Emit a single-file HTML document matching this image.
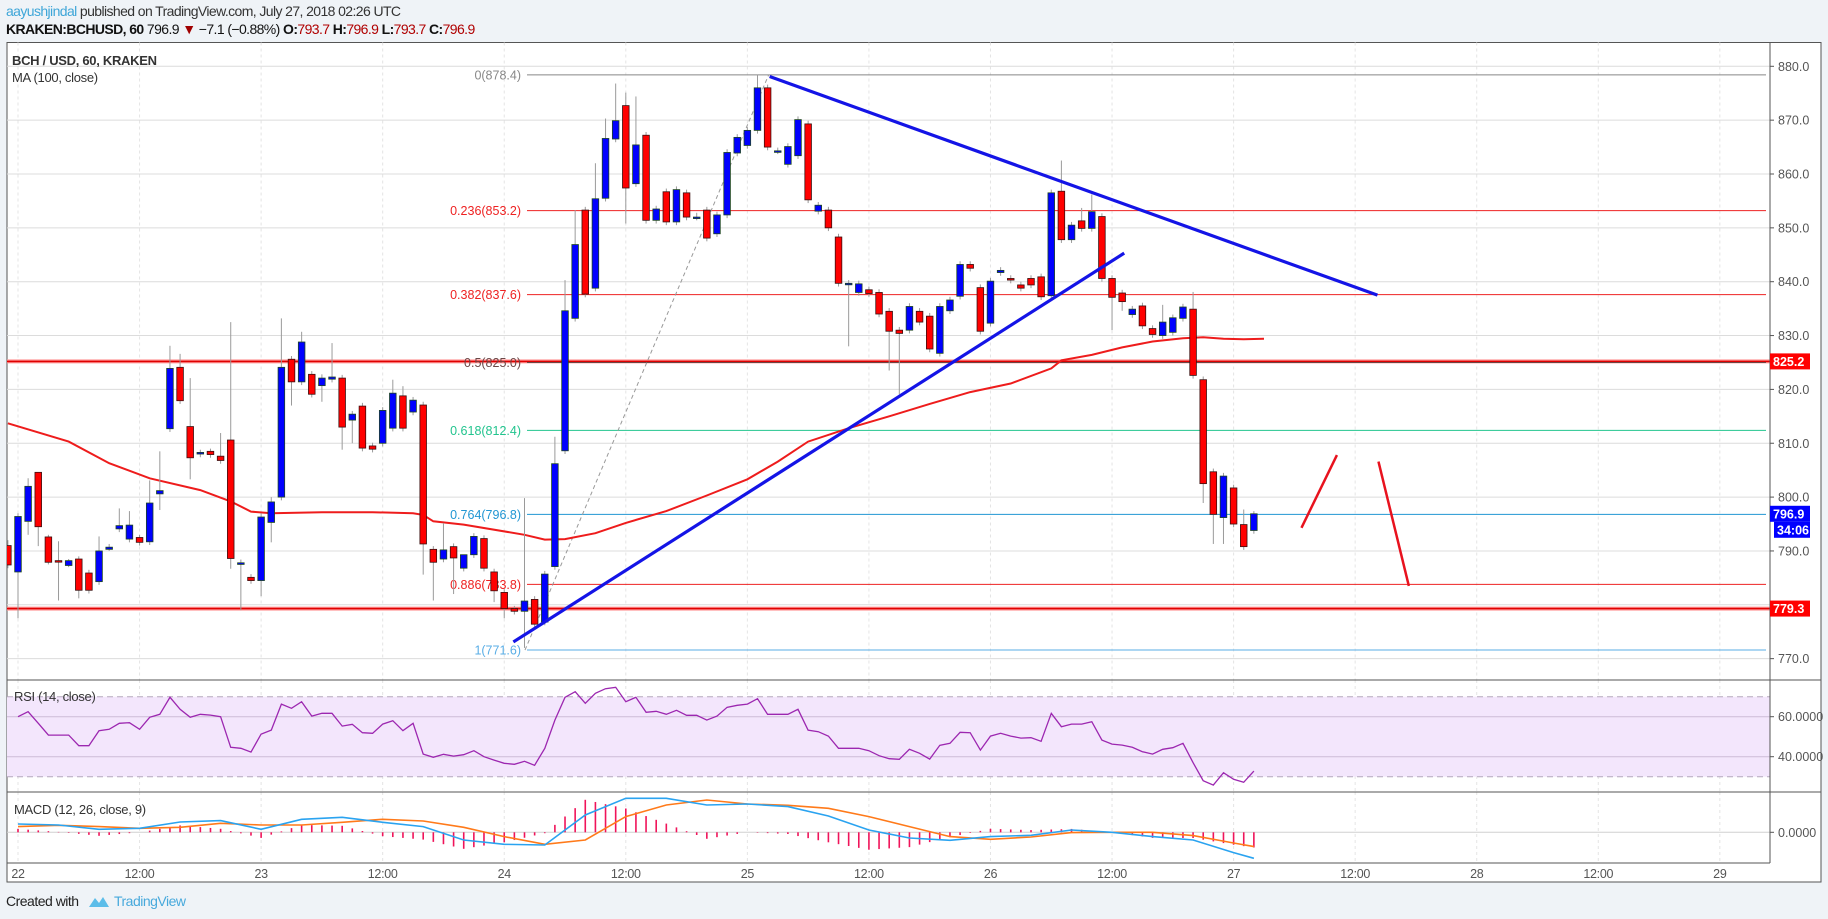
<!DOCTYPE html>
<html><head><meta charset="utf-8">
<style>
html,body{margin:0;padding:0;background:#eff3f7;}
body{width:1828px;height:919px;overflow:hidden;position:relative;font-family:"Liberation Sans",sans-serif;}
#hdr1{position:absolute;left:6px;top:3px;font-size:14px;color:#333;white-space:nowrap;letter-spacing:-0.6px}
#hdr2{position:absolute;left:6px;top:21px;font-size:14px;color:#111;font-weight:bold;white-space:nowrap;letter-spacing:-0.6px}
#hdr2 .v{color:#b00000;font-weight:normal}
#footer{position:absolute;left:6px;top:893px;font-size:14px;color:#222;white-space:nowrap;letter-spacing:-0.5px}
svg{position:absolute;left:0;top:0}
</style></head>
<body>
<div id="hdr1"><span style="color:#3ea6d8">aayushjindal</span> published on TradingView.com, July 27, 2018 02:26 UTC</div>
<div id="hdr2">KRAKEN:BCHUSD, 60 <span style="font-weight:normal">796.9</span> <span style="color:#a00000">▼</span> <span style="font-weight:normal">−7.1 (−0.88%)</span> O:<span class="v">793.7</span> H:<span class="v">796.9</span> L:<span class="v">793.7</span> C:<span class="v">796.9</span></div>
<svg id="chart" width="1828" height="919" xmlns="http://www.w3.org/2000/svg"></svg>
<div id="footer">Created with <span style="display:inline-block;width:22px;height:12px;vertical-align:-1px;margin:0 4px 0 6px;position:relative"><svg width="22" height="13" style="position:absolute;left:0;top:0"><path d="M1 12 L7 3 L11 8 L15 2 L21 12 Z" fill="#5cbde9"/></svg></span><span style="color:#47a9dc">TradingView</span></div>
<script>
// ---- data ----
const startHour = -1;
const opens  = [791.0,786.1,795.5,804.6,792.6,788.2,787.3,788.5,785.9,784.3,790.3,794.1,792.2,792.5,791.7,800.6,812.7,824.1,813.1,808.0,808.5,807.6,810.6,787.5,785.1,784.5,795.3,800.0,825.6,821.4,822.8,820.7,821.9,822.1,814.3,816.9,809.5,810.0,812.8,818.8,815.8,817.1,790.3,788.5,790.8,786.8,789.3,792.3,786.1,782.3,779.3,778.8,781.0,776.8,787.1,808.6,833.2,853.3,838.8,855.5,866.5,872.7,858.2,867.2,851.4,856.7,851.1,856.5,852.0,853.3,848.9,852.4,863.9,865.3,868.1,876.0,864.3,861.8,863.4,869.3,853.1,853.3,848.3,839.7,838.0,838.5,838.0,834.5,831.0,831.0,834.5,833.6,826.7,834.6,837.3,843.2,838.9,832.3,841.7,840.6,839.4,840.6,840.9,837.4,856.8,847.8,851.3,849.9,852.1,840.6,837.9,833.9,835.5,831.3,830.0,830.6,833.2,834.9,821.8,804.7,796.2,801.7,794.9,793.8];
const closes = [787.4,796.4,802.0,794.5,787.9,788.0,788.2,782.7,782.7,790.0,790.7,794.7,794.8,791.6,798.9,801.2,823.9,817.9,807.3,808.3,807.9,806.8,788.6,787.8,784.5,796.3,799.1,824.1,821.4,828.8,819.1,822.1,822.3,813.0,815.4,809.1,808.9,816.1,819.3,812.8,818.0,791.3,787.9,790.2,788.7,789.3,792.7,786.8,782.6,779.3,778.8,780.7,776.4,785.7,806.2,834.6,846.9,837.7,855.4,866.6,869.9,857.4,865.4,851.4,853.5,851.1,857.1,852.0,852.0,848.1,852.4,864.0,866.8,868.1,876.0,865.0,864.3,865.1,870.1,855.2,854.2,850.0,839.7,839.7,839.6,837.8,834.0,830.8,830.4,835.4,832.5,827.5,835.4,836.6,843.2,842.5,830.8,840.1,842.1,840.3,838.8,839.4,837.2,856.5,847.8,850.5,849.9,853.0,840.6,837.1,836.3,834.9,831.8,830.2,832.5,833.3,835.3,822.6,802.5,796.8,803.9,795.0,790.8,796.9];
const highs  = [792.0,797.0,803.5,804.6,793.0,791.8,788.5,789.0,786.5,792.7,791.3,797.9,797.4,793.0,803.1,808.5,828.1,826.6,822.1,808.8,809.0,811.9,832.5,788.4,785.7,797.0,800.0,833.2,826.2,830.7,823.4,822.8,828.6,822.7,816.0,817.5,810.1,816.7,821.8,820.6,818.6,817.7,790.9,795.2,791.4,787.4,793.3,792.9,786.7,782.9,779.8,799.8,781.6,786.3,811.2,840.3,853.3,853.9,862.0,870.3,876.8,875.1,874.4,867.8,854.1,857.3,857.7,857.1,852.8,853.9,853.0,864.6,867.4,868.7,878.4,876.6,864.9,865.7,870.7,869.9,854.8,853.9,848.9,840.3,840.2,839.1,838.6,835.1,831.6,836.0,835.1,834.2,836.0,837.2,843.8,843.8,839.5,840.7,842.7,841.2,840.0,841.2,841.5,857.1,862.5,851.1,853.7,856.2,852.7,841.2,838.5,835.5,836.1,831.9,835.7,833.9,835.9,838.1,822.4,805.3,804.5,802.3,797.7,797.4];
const lows   = [786.8,777.5,793.0,790.9,787.5,780.8,787.0,781.2,782.1,783.7,790.0,793.5,791.6,791.0,791.1,797.6,812.1,817.3,803.3,807.4,807.3,806.2,786.7,779.0,783.9,781.6,791.6,799.4,817.0,820.8,818.5,817.7,821.3,808.8,810.0,808.5,808.3,809.4,812.2,812.2,815.2,785.6,780.8,787.9,782.0,786.2,788.7,786.2,780.5,777.5,778.2,772.0,775.8,776.2,786.5,808.0,832.6,837.1,838.2,854.9,865.9,850.8,857.6,850.8,850.8,850.5,850.5,851.4,851.4,847.5,848.3,851.8,863.3,864.7,867.5,864.4,863.7,861.2,862.8,854.6,852.5,849.4,839.1,828.0,837.4,837.2,833.4,823.5,819.1,830.4,831.9,826.9,826.1,834.0,836.7,841.9,830.2,831.7,841.1,839.7,838.2,838.8,836.6,836.8,847.2,847.2,849.3,849.3,840.0,831.0,834.6,833.3,831.2,829.6,829.4,830.0,832.6,822.0,798.9,791.3,791.3,794.4,790.2,793.2];
const maHours = [-1,5,9,13,18,21,23,25,30,35,39,40,41,44,50,52,54,57,60,64,68,72,75,78,82,86,90,94,98,102,103,106,109,112,115,117,119,121,123];
const maValues = [813.7,810.3,806.3,803.5,801.3,799.2,797.3,797.0,797.2,797.2,797.0,796.7,795.5,794.9,793.0,792.1,792.2,793.3,795.2,797.4,800.3,803.3,806.6,810.3,812.8,815.0,817.3,819.5,821.1,823.9,825.4,826.4,827.8,828.9,829.5,829.7,829.4,829.3,829.4];
const rsiValues = [60,62.5,56.7,50.8,50.8,50.8,45.5,45.5,53,53.7,56.7,57,53.7,59.7,61.2,69.7,63.7,59.7,61.2,60.8,60,44.7,44.2,42.3,51.3,53.3,66.3,64.2,67.5,60.3,61.7,61.7,55.3,56.2,52,51.7,56.3,58,53,56.7,41.3,39.7,41.2,40.3,41,43,40,38.3,36.7,36.2,37.7,35.7,44.2,58.3,69.7,72.5,66.7,71.7,74,74.7,67.5,69.7,62.2,62.7,61.2,63.2,60.7,60.7,58.3,60.3,64.7,65.7,66.3,69,61.2,61.2,61.2,63.7,53.3,52.5,50.3,44.2,44.2,44.2,43,40.5,39,38.7,43.7,41.7,38.8,45.7,46.7,52.2,52,43.3,50.3,51.7,50.3,49.3,49.5,47.7,61.7,55,56.3,56.3,57.5,48.3,46.3,45.8,44.7,42.5,41.3,43.7,44.5,46.7,37,28,25.8,32,28.7,27.2,32.8];
const macdHours = [0,4,8,12,16,20,24,28,32,36,40,44,48,52,56,60,64,68,72,76,80,84,88,92,96,100,104,108,112,116,120,122];
const macdValues = [8.3,7.3,3,4,10.3,11.7,3,13,15,10,5.7,-7.7,-12,-12.7,17.3,34,34,27.3,28.3,25.7,16.3,2.3,-5.7,-8,-4.3,-3,2.3,0,-4.3,-7.7,-20.3,-26];
const signalValues = [5.7,7,5.7,4,5,9,7.3,7.3,10,13,11.3,5,-4.3,-12,-7.7,15.7,27.3,32.3,28.3,27,24,15.7,5.7,-4.3,-7,-4.7,-0.3,0,0,-3.3,-10.7,-14.3];
const priceTicks = [880,870,860,850,840,830,820,810,800,790,770];
const timeLabels = ["22","12:00","23","12:00","24","12:00","25","12:00","26","12:00","27","12:00","28","12:00","29"];
const fibLevels = [0,0.236,0.382,0.5,0.618,0.764,0.886,1];
const fibPrices = [878.4,853.2,837.6,825.0,812.4,796.8,783.8,771.6];

// ---- geometry ----
const L=7, R=1770, OR=1821, T=42.5, MB=680, RB=792, DB=863, OB=882;
const x = h => 18 + 10.13*h;
const y = p => 66.3 + (880-p)*5.385;
const yr = v => 716.7 + (60-v)*2;
const ym = v => 832.3 - v;
const NS='http://www.w3.org/2000/svg';
const svg=document.getElementById('chart');
function mk(tag,attrs,parent){const e=document.createElementNS(NS,tag);for(const k in attrs)e.setAttribute(k,attrs[k]);(parent||svg).appendChild(e);return e;}

const defs=mk('defs',{});
const cp=mk('clipPath',{id:'cm'},defs); mk('rect',{x:L,y:T,width:R-L,height:MB-T},cp);
const cr=mk('clipPath',{id:'cr'},defs); mk('rect',{x:L,y:MB,width:R-L,height:RB-MB},cr);
const cd=mk('clipPath',{id:'cd'},defs); mk('rect',{x:L,y:RB,width:R-L,height:DB-RB},cd);

let e=mk('rect',{x:L,y:T,width:OR-L,height:OB-T,fill:'#fff',stroke:'#555','stroke-width':1});



// grid
const gm=mk('g',{'clip-path':'url(#cm)'});


for(let p=770;p<=880;p+=10){mk('line',{x1:L,x2:R,y1:y(p),y2:y(p),stroke:'#dcdcdc','stroke-width':1},gm);}
timeLabels.forEach((t,i)=>{const xx=x(i*12);
  [[T,MB],[MB,RB],[RB,DB]].forEach(r=>{let g=mk('line',{x1:xx,x2:xx,y1:r[0],y2:r[1],stroke:'#e4e4e4','stroke-dasharray':'3,3'});
    
    });
});

// thick red support/resistance
[825.2,779.3].forEach(p=>{
  let g=mk('line',{x1:L,x2:R,y1:y(p),y2:y(p),stroke:'#ff9a9a','stroke-width':4});
  
  
  mk('line',{x1:L,x2:R,y1:y(p),y2:y(p),stroke:'#e00000','stroke-width':1.6});
});

// fib
const fibColors=['#888','#ee2222','#ee2222','#6b4848','#22c48e','#2196d3','#ee2222','#5aaee6'];
fibLevels.forEach((lv,i)=>{
  const p=fibPrices[i];
  let ln=mk('line',{x1:527,x2:1766,y1:y(p),y2:y(p),stroke:fibColors[i],'stroke-width':1});
  
  
  let t=mk('text',{x:521,y:y(p)+4.5,'text-anchor':'end','font-size':12.5,fill:fibColors[i],'font-family':'Liberation Sans, sans-serif'});
  t.textContent=lv+'('+p.toFixed(1)+')';
  
  
});

// dashed fib trend
e=mk('line',{x1:x(50.05),y1:y(771.6),x2:x(74.1),y2:y(878.4),stroke:'#999','stroke-dasharray':'4,3','stroke-width':1});



// MA
const cg=mk('g',{'clip-path':'url(#cm)'});
let pts=maHours.map((h,i)=>x(h).toFixed(1)+','+y(maValues[i]).toFixed(1)).join(' ');
e=mk('polyline',{points:pts,fill:'none',stroke:'#ee1c1c','stroke-width':2},cg);



// candles
opens.forEach((o,i)=>{
  const h=startHour+i, c=closes[i], up=c>=o, xx=x(h);
  let w=mk('line',{x1:xx,x2:xx,y1:y(highs[i]),y2:y(lows[i]),stroke:'#9a9a9a','stroke-width':1},cg);
  
  
  const top=y(Math.max(o,c)), bh=Math.max(1.5,Math.abs(y(o)-y(c)));
  let b=mk('rect',{x:xx-3.3,y:top,width:6.6,height:bh,fill:up?'#0000ff':'#ff0000',stroke:up?'#1e4620':'#3a1010','stroke-width':0.8},cg);
  
  
});

// trend lines (blue)
e=mk('line',{x1:x(48.9),y1:y(773.1),x2:x(109.2),y2:y(845.3),stroke:'#1414e6','stroke-width':3.2});


e=mk('line',{x1:x(74.2),y1:y(878.1),x2:x(134.2),y2:y(837.5),stroke:'#1414e6','stroke-width':3.2});


// red projection strokes
e=mk('line',{x1:x(126.7),y1:y(794.3),x2:x(130.2),y2:y(807.8),stroke:'#e8121e','stroke-width':2.5});


e=mk('line',{x1:x(134.3),y1:y(806.6),x2:x(137.3),y2:y(783.5),stroke:'#e8121e','stroke-width':2.5});



// pane legends
function txt(s,xx,yy,opt){const t=mk('text',Object.assign({x:xx,y:yy,'font-size':13,fill:'#333','font-family':'Liberation Sans, sans-serif'},opt||{}));t.textContent=s;return t;}
e=txt('BCH / USD, 60, KRAKEN',12,65,{'font-weight':'bold','letter-spacing':'-0.3'});


e=txt('MA (100, close)',12,82,{'letter-spacing':'-0.3'});



// RSI pane
const rg=mk('g',{'clip-path':'url(#cr)'});
e=mk('rect',{x:L,y:yr(70),width:R-L,height:yr(30)-yr(70),fill:'#f3e6fc'},rg);


[70,30].forEach(v=>mk('line',{x1:L,x2:R,y1:yr(v),y2:yr(v),stroke:'#b5a8bd','stroke-dasharray':'6,4'},rg));
[60,40].forEach(v=>mk('line',{x1:L,x2:R,y1:yr(v),y2:yr(v),stroke:'#cdbcd6'},rg));
pts=rsiValues.map((v,i)=>x(i).toFixed(1)+','+yr(v).toFixed(1)).join(' ');
e=mk('polyline',{points:pts,fill:'none',stroke:'#9c27b0','stroke-width':1.3},rg);


e=txt('RSI (14, close)',14,701,{'letter-spacing':'-0.3'});



// MACD pane
const dg=mk('g',{'clip-path':'url(#cd)'});
mk('line',{x1:L,x2:R,y1:ym(0),y2:ym(0),stroke:'#d0d0d0'},dg);
function interp(arrH,arrV,h){if(h<=arrH[0])return arrV[0];for(let k=1;k<arrH.length;k++){if(h<=arrH[k]){const t=(h-arrH[k-1])/(arrH[k]-arrH[k-1]);return arrV[k-1]+t*(arrV[k]-arrV[k-1]);}}return arrV[arrV.length-1];}
for(let h=0;h<=122;h++){
  const d=(interp(macdHours,macdValues,h)-interp(macdHours,signalValues,h))*1.3;
  if(Math.abs(d)<0.3)continue;
  let hb=mk('rect',{x:x(h)-0.8,y:Math.min(ym(0),ym(d)),width:1.6,height:Math.abs(d),fill:'#f0145a'},dg);
  
  
}
pts=macdHours.map((h,i)=>x(h).toFixed(1)+','+ym(signalValues[i]).toFixed(1)).join(' ');
e=mk('polyline',{points:pts,fill:'none',stroke:'#ff7a1a','stroke-width':1.6},dg);


pts=macdHours.map((h,i)=>x(h).toFixed(1)+','+ym(macdValues[i]).toFixed(1)).join(' ');
e=mk('polyline',{points:pts,fill:'none',stroke:'#2aa3f0','stroke-width':1.6},dg);


e=txt('MACD (12, 26, close, 9)',14,814,{'letter-spacing':'-0.3'});



// pane separators & axis line
[MB,RB].forEach(yy=>mk('line',{x1:L,x2:OR,y1:yy,y2:yy,stroke:'#555'}));
mk('line',{x1:L,x2:R,y1:DB,y2:DB,stroke:'#555'});
mk('line',{x1:R,x2:R,y1:T,y2:DB,stroke:'#555'});

// price axis
priceTicks.forEach(p=>{
  mk('line',{x1:R,x2:R+4,y1:y(p),y2:y(p),stroke:'#555'});
  let t=txt(p.toFixed(1),1778,y(p)+4.5,{'font-size':12.5,fill:'#555'});
  
  
});
[[60,'60.0000'],[40,'40.0000']].forEach(a=>{mk('line',{x1:R,x2:R+4,y1:yr(a[0]),y2:yr(a[0]),stroke:'#555'});
  let t=txt(a[1],1778,yr(a[0])+4.5,{'font-size':12.5,fill:'#555'});
  
  });
mk('line',{x1:R,x2:R+4,y1:ym(0),y2:ym(0),stroke:'#555'});
e=txt('0.0000',1778,ym(0)+4.5,{'font-size':12.5,fill:'#555'});



// axis price badges
function badge(label,p,color,xx,dy){
  const yy=y(p)+(dy||0);
  let b=mk('rect',{x:xx,y:yy-8,width:1810-xx,height:16,fill:color});
  
  
  let t=txt(label,xx+3,yy+4.5,{'font-size':12.5,fill:'#fff','font-weight':'bold'});
  
  
}
badge('825.2',825.2,'#ff0000',1770);
badge('796.9',796.9,'#0000ff',1770);
badge('34:06',796.9,'#0000ff',1774,16);
badge('779.3',779.3,'#ff0000',1770);

// time axis
timeLabels.forEach((s,i)=>{
  let t=txt(s,x(i*12),878,{'font-size':12.5,fill:'#555','text-anchor':'middle','letter-spacing':'-0.3'});
  
  
});
</script>
</body></html>
